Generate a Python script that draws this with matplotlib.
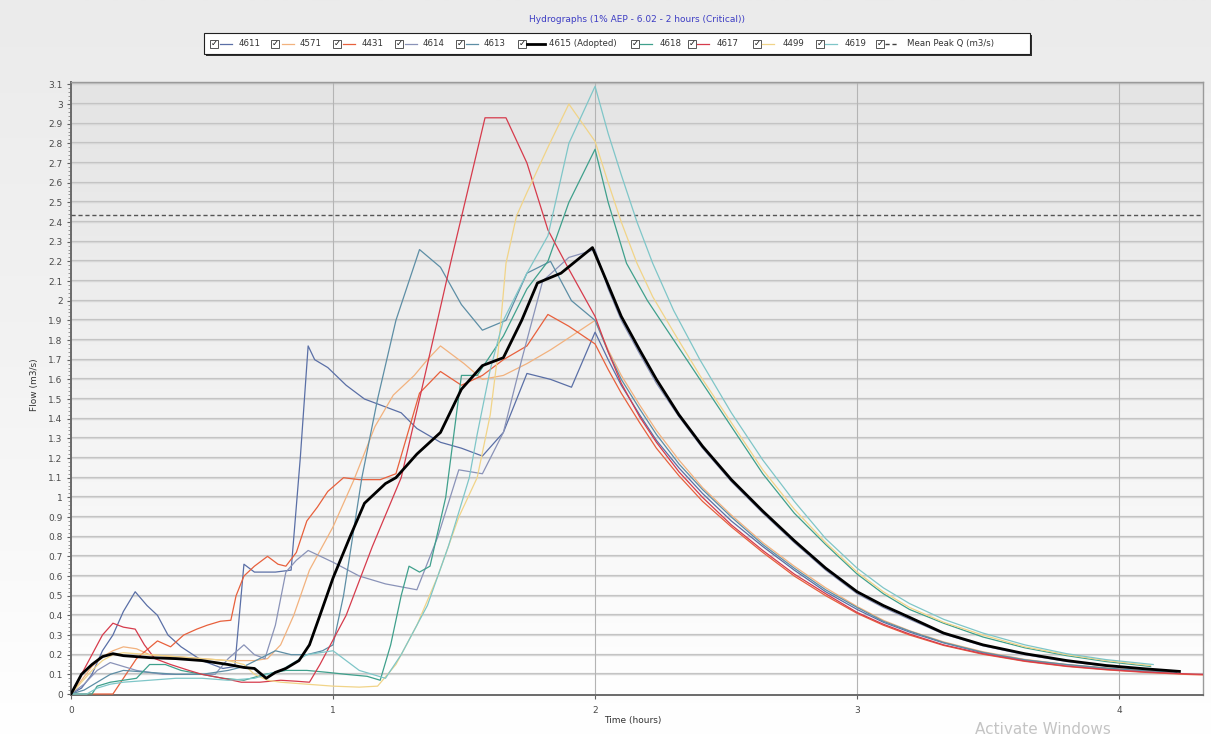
import numpy as np
import matplotlib
matplotlib.use("Agg")
import matplotlib.pyplot as plt
from matplotlib.patches import Rectangle
from matplotlib.lines import Line2D

# ---------------- data ----------------
title = "Hydrographs (1% AEP - 6.02 - 2 hours (Critical))"
x_label = "Time (hours)"
y_label = "Flow (m3/s)"
mean_peak_q = 2.435

t_4611 = [0, 0.04, 0.08, 0.12, 0.16, 0.2, 0.245, 0.29, 0.33, 0.37, 0.42, 0.5, 0.58, 0.625, 0.66, 0.7, 0.78, 0.84,
          0.875, 0.905, 0.93, 0.98, 1.05, 1.12, 1.2, 1.26, 1.32, 1.41, 1.49, 1.57, 1.65, 1.74, 1.83, 1.91, 2.0,
          2.05, 2.1, 2.17, 2.234, 2.32, 2.41, 2.52, 2.64, 2.76, 2.88, 3.0, 3.1, 3.2, 3.33, 3.48, 3.64, 3.8, 3.95, 4.1, 4.2]
q_4611 = [0, 0.03, 0.1, 0.22, 0.3, 0.42, 0.52, 0.45, 0.4, 0.3, 0.24, 0.17, 0.13, 0.14, 0.66, 0.62, 0.62, 0.63,
          1.2, 1.77, 1.7, 1.66, 1.57, 1.5, 1.46, 1.43, 1.35, 1.28, 1.25, 1.21, 1.33, 1.63, 1.6, 1.56, 1.84,
          1.7, 1.57, 1.42, 1.29, 1.15, 1.02, 0.88, 0.75, 0.63, 0.52, 0.43, 0.365, 0.315, 0.26, 0.21, 0.172, 0.148, 0.13, 0.117, 0.11]

t_4571 = [0, 0.04, 0.08, 0.12, 0.16, 0.2, 0.25, 0.3, 0.4, 0.5, 0.6, 0.7, 0.75, 0.8, 0.85, 0.91, 1.0, 1.08, 1.16, 1.23,
          1.31, 1.36, 1.41, 1.5, 1.57, 1.65, 1.74, 1.83, 1.91, 2.0,
          2.05, 2.1, 2.17, 2.234, 2.32, 2.41, 2.52, 2.64, 2.76, 2.88, 3.0, 3.1, 3.2, 3.33, 3.48, 3.64, 3.8, 3.95, 4.1, 4.2]
q_4571 = [0, 0.07, 0.14, 0.19, 0.22, 0.24, 0.23, 0.2, 0.19, 0.18, 0.17, 0.17, 0.18, 0.25, 0.4, 0.63, 0.85, 1.09, 1.36, 1.52,
          1.62, 1.7, 1.77, 1.68, 1.6, 1.62, 1.68, 1.75, 1.82, 1.9,
          1.75, 1.62, 1.47, 1.34, 1.19, 1.05, 0.91, 0.77, 0.65, 0.54, 0.445, 0.375, 0.322, 0.265, 0.215, 0.176, 0.15, 0.133, 0.12, 0.112]

t_4431 = [0, 0.1, 0.16, 0.2, 0.25, 0.33, 0.38, 0.43, 0.48, 0.52, 0.57, 0.61, 0.63, 0.66, 0.7, 0.75, 0.79, 0.82, 0.86,
          0.9, 0.94, 0.98, 1.04, 1.1, 1.18, 1.24, 1.33, 1.41, 1.49, 1.57, 1.65, 1.74, 1.82, 1.9, 2.0,
          2.05, 2.1, 2.17, 2.234, 2.32, 2.41, 2.52, 2.64, 2.76, 2.88, 3.0, 3.1, 3.2, 3.33, 3.48, 3.64, 3.8, 3.95, 4.1, 4.25, 4.32]
q_4431 = [0, 0, 0, 0.08, 0.18, 0.27, 0.24, 0.3, 0.33, 0.35, 0.37, 0.375, 0.5, 0.6, 0.65, 0.7, 0.66, 0.65, 0.72,
          0.88, 0.95, 1.03, 1.1, 1.09, 1.09, 1.12, 1.53, 1.64, 1.57, 1.62, 1.7, 1.77, 1.93, 1.87, 1.78,
          1.65, 1.53, 1.38, 1.25, 1.11, 0.98, 0.85, 0.72, 0.6, 0.5, 0.41, 0.35, 0.3, 0.247, 0.202, 0.166, 0.14, 0.123, 0.11, 0.1, 0.097]

t_4614 = [0, 0.05, 0.1, 0.15, 0.2, 0.25, 0.35, 0.45, 0.55, 0.6, 0.66, 0.7, 0.74, 0.78, 0.82, 0.86, 0.905, 1.0, 1.1,
          1.2, 1.32, 1.4, 1.48, 1.57, 1.65, 1.72, 1.8, 1.9, 2.0,
          2.05, 2.1, 2.17, 2.234, 2.32, 2.41, 2.52, 2.64, 2.76, 2.88, 3.0, 3.1, 3.2, 3.33, 3.48, 3.64, 3.8, 3.95, 4.1, 4.2]
q_4614 = [0, 0.05, 0.12, 0.16, 0.14, 0.12, 0.1, 0.1, 0.1, 0.18, 0.25, 0.2, 0.18, 0.35, 0.62, 0.68, 0.73, 0.67, 0.6,
          0.56, 0.53, 0.8, 1.14, 1.12, 1.33, 1.7, 2.1, 2.22, 2.26,
          2.06, 1.9, 1.73, 1.58, 1.41, 1.25, 1.08, 0.92, 0.77, 0.63, 0.51, 0.44, 0.38, 0.305, 0.245, 0.2, 0.165, 0.142, 0.125, 0.115]

t_4613 = [0, 0.05, 0.1, 0.15, 0.2, 0.3, 0.4, 0.5, 0.6, 0.66, 0.72, 0.78, 0.84, 0.9, 0.96, 1.0, 1.04, 1.11, 1.17,
          1.24, 1.33, 1.41, 1.49, 1.57, 1.66, 1.74, 1.83, 1.91, 2.0,
          2.05, 2.1, 2.17, 2.234, 2.32, 2.41, 2.52, 2.64, 2.76, 2.88, 3.0, 3.1, 3.2, 3.33, 3.48, 3.64, 3.8, 3.95, 4.1, 4.22]
q_4613 = [0, 0.02, 0.06, 0.1, 0.12, 0.11, 0.1, 0.1, 0.12, 0.14, 0.18, 0.22, 0.2, 0.2, 0.22, 0.25, 0.5, 1.1, 1.5,
          1.9, 2.26, 2.17, 1.98, 1.85, 1.9, 2.14, 2.2, 2.0, 1.9,
          1.74, 1.6, 1.45, 1.32, 1.17, 1.04, 0.9, 0.76, 0.64, 0.53, 0.44, 0.37, 0.32, 0.262, 0.212, 0.174, 0.15, 0.132, 0.118, 0.11]

t_4615 = [0, 0.04, 0.08, 0.12, 0.16, 0.2, 0.3, 0.4, 0.5, 0.6, 0.66, 0.7, 0.745, 0.78, 0.82, 0.87, 0.91, 0.95, 1.0,
          1.065, 1.12, 1.16, 1.2, 1.24, 1.32, 1.41, 1.49, 1.57, 1.65, 1.72, 1.78, 1.87, 1.99,
          2.05, 2.1, 2.17, 2.234, 2.32, 2.41, 2.52, 2.64, 2.76, 2.88, 3.0, 3.1, 3.2, 3.33, 3.48, 3.64, 3.8, 3.95, 4.1, 4.23]
q_4615 = [0, 0.1, 0.15, 0.19, 0.205, 0.195, 0.185, 0.18, 0.17, 0.15, 0.135, 0.13, 0.08, 0.11, 0.13, 0.17, 0.25, 0.4, 0.59,
          0.8, 0.97, 1.02, 1.07, 1.1, 1.22, 1.33, 1.55, 1.67, 1.71, 1.9, 2.09, 2.14, 2.27,
          2.08, 1.92, 1.75, 1.6, 1.42, 1.26, 1.09, 0.93, 0.78, 0.64, 0.52, 0.45, 0.39, 0.31, 0.25, 0.205, 0.17, 0.145, 0.128, 0.115]

t_4618 = [0, 0.08, 0.1, 0.15, 0.2, 0.25, 0.3, 0.36, 0.42, 0.5, 0.58, 0.66, 0.74, 0.82, 0.9, 0.98, 1.05, 1.13, 1.18,
          1.22, 1.26, 1.29, 1.33, 1.37, 1.43, 1.49, 1.55, 1.65, 1.74, 1.82, 1.9, 2.0,
          2.05, 2.12, 2.2, 2.3, 2.4, 2.52, 2.64, 2.76, 2.88, 3.0, 3.1, 3.2, 3.33, 3.48, 3.64, 3.8, 3.95, 4.12]
q_4618 = [0, 0, 0.04, 0.06, 0.07, 0.08, 0.15, 0.15, 0.12, 0.1, 0.08, 0.07, 0.1, 0.12, 0.12, 0.11, 0.1, 0.09, 0.07,
          0.25, 0.5, 0.65, 0.62, 0.65, 1.0, 1.62, 1.62, 1.82, 2.06, 2.2, 2.5, 2.77,
          2.5, 2.19, 2.0, 1.8, 1.6, 1.36, 1.12, 0.92, 0.76, 0.61, 0.51, 0.43, 0.36, 0.29, 0.235, 0.195, 0.165, 0.14]

t_4617 = [0, 0.04, 0.08, 0.12, 0.16, 0.2, 0.245, 0.28, 0.32, 0.38, 0.45, 0.5, 0.58, 0.65, 0.72, 0.8, 0.86, 0.91,
          0.95, 1.05, 1.15, 1.26, 1.33, 1.45, 1.58, 1.66, 1.74, 1.82, 1.9, 2.0,
          2.05, 2.1, 2.17, 2.234, 2.32, 2.41, 2.52, 2.64, 2.76, 2.88, 3.0, 3.1, 3.2, 3.33, 3.48, 3.64, 3.8, 3.95, 4.1, 4.25, 4.32]
q_4617 = [0, 0.1, 0.2, 0.3, 0.36, 0.34, 0.33, 0.25, 0.18, 0.15, 0.12, 0.1, 0.08, 0.06, 0.06, 0.07, 0.065, 0.06,
          0.15, 0.4, 0.75, 1.1, 1.5, 2.2, 2.93, 2.93, 2.7, 2.36, 2.16, 1.92,
          1.74, 1.58, 1.41, 1.28, 1.13, 1.0, 0.86, 0.73, 0.61, 0.51, 0.415, 0.355, 0.305, 0.25, 0.205, 0.168, 0.142, 0.125, 0.112, 0.103, 0.1]

t_4499 = [0, 0.04, 0.08, 0.12, 0.16, 0.2, 0.3, 0.4, 0.5, 0.6, 0.66, 0.7, 0.75, 0.8, 0.9, 1.0, 1.1, 1.17, 1.24, 1.32,
          1.4, 1.48, 1.55, 1.6, 1.63, 1.66, 1.7, 1.74, 1.82, 1.9, 2.0,
          2.05, 2.1, 2.16, 2.22, 2.3, 2.4, 2.52, 2.64, 2.76, 2.88, 3.0, 3.1, 3.2, 3.33, 3.48, 3.64, 3.8, 3.95, 4.12]
q_4499 = [0, 0.06, 0.12, 0.17, 0.2, 0.21, 0.2, 0.19, 0.18, 0.17, 0.15, 0.1, 0.07, 0.06, 0.05, 0.04, 0.035, 0.04, 0.15, 0.35,
          0.6, 0.9, 1.1, 1.42, 1.74, 2.19, 2.43, 2.55, 2.78, 3.0, 2.81,
          2.6, 2.4, 2.19, 2.02, 1.84, 1.62, 1.38, 1.14, 0.94, 0.77, 0.62, 0.52, 0.44, 0.365, 0.3, 0.24, 0.2, 0.17, 0.145]

t_4619 = [0, 0.06, 0.1, 0.15, 0.2, 0.3, 0.4, 0.5, 0.6, 0.7, 0.8, 0.9, 1.0, 1.1, 1.2, 1.26, 1.36, 1.44, 1.52, 1.55,
          1.6, 1.65, 1.74, 1.82, 1.9, 2.0,
          2.05, 2.1, 2.16, 2.22, 2.3, 2.4, 2.52, 2.64, 2.76, 2.88, 3.0, 3.1, 3.2, 3.33, 3.48, 3.64, 3.8, 3.95, 4.13]
q_4619 = [0, 0, 0.03, 0.05, 0.06, 0.07, 0.08, 0.08, 0.07, 0.08, 0.12, 0.2, 0.22, 0.12, 0.08, 0.2, 0.45, 0.75, 1.1, 1.32,
          1.65, 1.9, 2.14, 2.33, 2.8, 3.09,
          2.85, 2.64, 2.4, 2.19, 1.95, 1.7, 1.43, 1.19, 0.98, 0.79, 0.64, 0.54, 0.46, 0.38, 0.31, 0.25, 0.205, 0.175, 0.15]

series_names = ["4611", "4571", "4431", "4614", "4613", "4615 (Adopted)", "4618", "4617", "4499", "4619"]
series_t = [t_4611, t_4571, t_4431, t_4614, t_4613, t_4615, t_4618, t_4617, t_4499, t_4619]
series_q = [q_4611, q_4571, q_4431, q_4614, q_4613, q_4615, q_4618, q_4617, q_4499, q_4619]

# ---------------- style ----------------
colors = ["#5a6fa6", "#f2b27e", "#e8603c", "#8a93b8", "#5d8ea5", "#000000",
          "#3fa08c", "#d63b4c", "#f1d488", "#7fc6c8"]
W, H = 1211, 735
fig = plt.figure(figsize=(W / 100, H / 100), dpi=100)

def fx(px):
    return px / W

def fy(py):
    return 1 - py / H

# figure background gradient
bg = fig.add_axes([0, 0, 1, 1], zorder=-10)
grad = np.linspace(0, 1, 256)[:, None]
from matplotlib.colors import LinearSegmentedColormap
cm_fig = LinearSegmentedColormap.from_list("figbg", ["#ebebeb", "#f3f3f3", "#ffffff"])
bg.imshow(grad, aspect="auto", cmap=cm_fig, extent=[0, 1, 0, 1], origin="upper")
bg.set_axis_off()

L, R, T, B = 71, 1203, 82, 695
ax = fig.add_axes([fx(L), fy(B), fx(R - L), fy(T) - fy(B)])
ax.set_xlim(0, 4.32)
ax.set_ylim(-0.005, 3.112)

cm_ax = LinearSegmentedColormap.from_list("axbg", ["#e4e4e4", "#f2f2f2", "#ffffff"])
ax.imshow(grad, aspect="auto", cmap=cm_ax, extent=[0, 4.32, -0.005, 3.112], origin="upper", zorder=0)

yt = np.round(np.arange(0, 3.11, 0.1), 1)
ax.set_yticks(yt)
ax.set_yticklabels([("%g" % v) for v in yt])
ax.set_yticks(np.arange(0, 3.11, 0.02), minor=True)
ax.set_xticks([0, 1, 2, 3, 4])
ax.set_xticklabels(["0", "1", "2", "3", "4"])
for v in yt[1:]:
    ax.axhline(v, color="#c4c4c4", lw=1.6, zorder=1)
    ax.axhline(v, color="#e0e0e0", lw=0.5, zorder=1)
for v in [1, 2, 3, 4]:
    ax.axvline(v, color="#b4b4b4", lw=0.8, zorder=1)

ax.tick_params(axis="y", which="major", length=3, width=0.8, color="#606060",
               labelsize=6.5, labelcolor="#4a4a4a", pad=3)
ax.tick_params(axis="y", which="minor", length=2, width=0.5, color="#707070")
ax.tick_params(axis="x", which="major", length=3, width=0.8, color="#606060",
               labelsize=6.5, labelcolor="#4a4a4a", pad=5)
for s in ["left", "bottom"]:
    ax.spines[s].set_color("#6a6a6a")
    ax.spines[s].set_linewidth(1.4)
for s in ["top", "right"]:
    ax.spines[s].set_color("#9a9a9a")
    ax.spines[s].set_linewidth(1.0)

ax.axhline(mean_peak_q, color="#555555", lw=1.0, ls=(0, (3, 2)), zorder=3)

for name, t, q, c in zip(series_names, series_t, series_q, colors):
    if name.startswith("4615"):
        continue
    ax.plot(t, q, color=c, lw=0.9, zorder=4, solid_joinstyle="round")
ax.plot(t_4615, q_4615, color="#000000", lw=2.0, zorder=6, solid_joinstyle="round")

fig.text(fx(633), fy(721), x_label, fontsize=6.5, color="#333333", ha="center", va="center")
fig.text(fx(34), fy(385), y_label, fontsize=6.5, color="#333333", ha="center", va="center", rotation=90)
fig.text(fx(637), fy(20), title, fontsize=6.5, color="#3d3dc4", ha="center", va="center")
fig.text(fx(975), fy(722), "Activate Windows", fontsize=11, color="#c4c4c4", ha="left", va="top")

# ---------------- legend (manual) ----------------
lg = fig.add_axes([0, 0, 1, 1], zorder=20)
lg.set_xlim(0, W)
lg.set_ylim(H, 0)
lg.set_axis_off()
lg.add_patch(Rectangle((206, 35), 826, 21, facecolor="#303030", edgecolor="none"))
lg.add_patch(Rectangle((204, 33), 826, 21, facecolor="#ffffff", edgecolor="#202020", lw=0.8))

cb_x = [210, 271, 333, 395, 456, 518, 631, 688, 753, 816, 876]
line_x = [(220, 232), (282, 294), (343, 355), (405, 417), (466, 478), (527, 545),
          (640, 652), (697, 709), (762, 774), (825, 837), (885, 898)]
text_x = [239, 300, 362, 423, 484, 549, 660, 717, 783, 845, 907]
leg_labels = series_names + ["Mean Peak Q (m3/s)"]
leg_colors = colors + ["#404040"]
yc = 43.5
for i, lab in enumerate(leg_labels):
    x0 = cb_x[i]
    lg.add_patch(Rectangle((x0, yc - 4), 8, 8, facecolor="#ffffff", edgecolor="#555555", lw=0.7))
    lg.text(x0 + 4, yc + 0.3, "\u2713", fontsize=6, color="#111111", ha="center", va="center",
            fontweight="bold")
    a, b = line_x[i]
    if lab.startswith("4615"):
        lg.plot([a, b], [yc, yc], color="#000000", lw=2.0)
    elif lab.startswith("Mean"):
        lg.plot([a, b], [yc, yc], color=leg_colors[i], lw=1.0, ls=(0, (3, 2)))
    else:
        lg.plot([a, b], [yc, yc], color=leg_colors[i], lw=0.9)
    lg.text(text_x[i], yc, lab, fontsize=6.2, color="#333333", ha="left", va="center")

fig.savefig("out.png", dpi=100)
